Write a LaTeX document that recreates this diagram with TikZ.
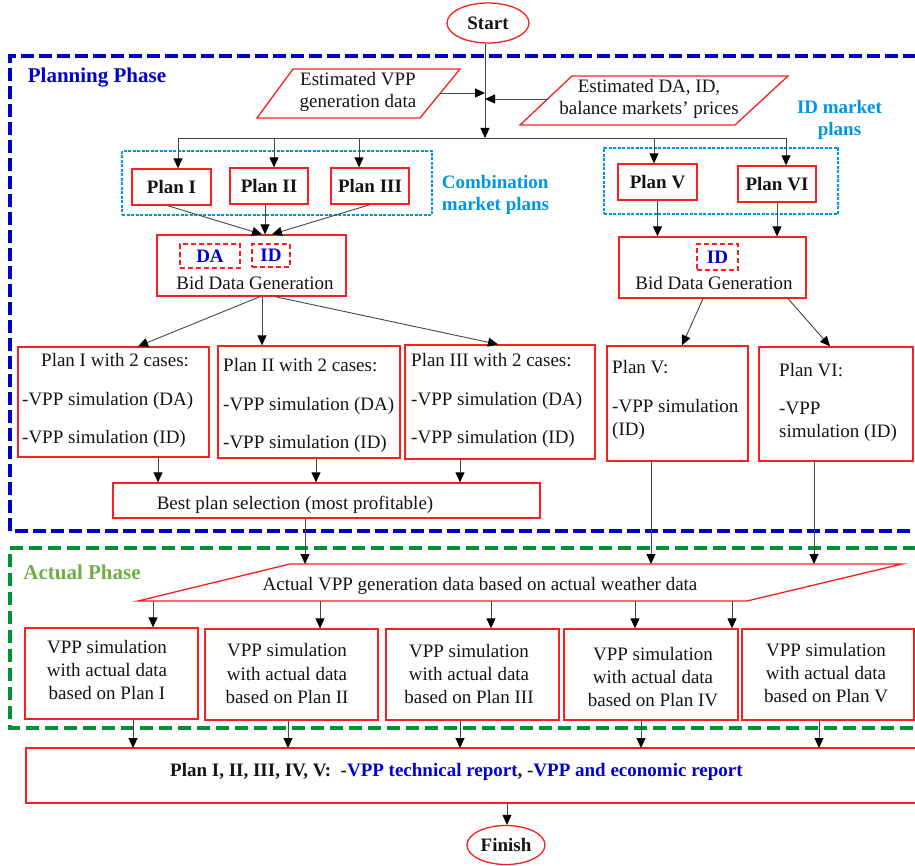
\documentclass[tikz,border=0pt]{standalone}
\usepackage{fontspec}
\setmainfont{Liberation Serif}
\usetikzlibrary{arrows.meta,shapes.geometric,calc}
\definecolor{rd}{RGB}{250,30,30}
\definecolor{ln}{RGB}{70,70,70}
\definecolor{txt}{RGB}{20,20,20}
\definecolor{phblue}{RGB}{0,0,200}
\definecolor{phgreenline}{RGB}{0,145,55}
\definecolor{phgreentext}{RGB}{112,173,71}
\definecolor{cyn}{RGB}{0,150,230}
\definecolor{dblue}{RGB}{0,0,210}
\begin{document}
\begin{tikzpicture}[x=1pt,y=-1pt,
  every node/.style={font=\fontsize{19}{22.5}\selectfont, text=txt},
  rbox/.style={draw=rd, line width=1.3pt, inner sep=0pt},
  redline/.style={draw=rd, line width=1.3pt},
  rdash/.style={draw=rd, line width=1.4pt, dash pattern=on 5pt off 3pt, inner sep=0pt, text=dblue, font=\fontsize{19}{22.5}\selectfont\bfseries},
  cybox/.style={draw=cyn, line width=1.2pt, dash pattern=on 3pt off 1.5pt, inner sep=0pt},
  cylbl/.style={inner sep=0pt, text=cyn, font=\fontsize{19}{22.5}\selectfont\bfseries},
  bluedash/.style={draw=phblue, line width=4pt, dash pattern=on 13pt off 5pt},
  greendash/.style={draw=phgreenline, line width=4pt, dash pattern=on 13pt off 6pt},
  phlbl/.style={inner sep=0pt, font=\fontsize{21}{24}\selectfont\bfseries},
  lbl/.style={inner sep=0pt},
  simtxt/.style={inner sep=0pt, align=center, font=\fontsize{19}{23.3}\selectfont},
  conn/.style={draw=ln, line width=0.9pt},
  arr/.style={conn, -{Triangle[length=10pt,width=9pt,color=black]}}
]
\useasboundingbox (0,0) rectangle (915,866);

% ---------- phases ----------
\draw[bluedash] (916,56) -- (10,56) -- (10,531) -- (916,531);
\draw[greendash] (916,548) -- (10,548) -- (10,728) -- (916,728);
\node[phlbl, text=phblue] (plabel) at (97,78) {Planning Phase};
\node[phlbl, text=phgreentext] (alabel) at (82,572) {Actual Phase};

% ---------- start & inputs ----------
\node[ellipse, draw=rd, line width=1.3pt, minimum width=82pt, minimum height=40pt, inner sep=0pt] (start) at (488,23) {\textbf{Start}};

\draw[redline] (257,118) -- (293,69) -- (460,69) -- (420,118) -- cycle;
\node[lbl, align=center] (est1) at (358,92) {Estimated VPP\\generation data};
\draw[redline] (520,125) -- (572,76) -- (788,76) -- (735,125) -- cycle;
\node[lbl, align=center] (est2) at (649,99) {Estimated DA, ID,\\balance markets’ prices};

\coordinate (jA) at (485,93);
\coordinate (jB) at (485,99);
\coordinate (jC) at (485,138);
\coordinate (e1r) at (440,93);
\coordinate (e2l) at (548,99);
\draw[arr] (start.south -| jC) -- (jC);
\draw[arr] (e1r) -- (jA);
\draw[arr] (e2l) -- (jB);

\coordinate (bL) at (178,138);
\coordinate (b2) at (274,138);
\coordinate (b3) at (359,138);
\coordinate (b5) at (654,138);
\coordinate (bR) at (786,138);
\draw[conn] (bL) -- (bR);

% ---------- plan groups ----------
\node[cybox, minimum width=310pt, minimum height=64pt] (comb) at (277,183) {};
\node[cybox, minimum width=234pt, minimum height=66pt] (idgrp) at (721,181) {};
\node[cylbl, align=left] (comblbl) at (495.5,195) {Combination\\market plans};
\node[cylbl, align=center] (idlbl) at (839.5,120) {ID market\\plans};

\node[rbox, minimum width=79pt, minimum height=36pt] (p1s) at (171.5,187) {\textbf{Plan I}};
\node[rbox, minimum width=78pt, minimum height=36pt] (p2s) at (269,186) {\textbf{Plan II}};
\node[rbox, minimum width=78pt, minimum height=36pt] (p3s) at (370,186) {\textbf{Plan III}};
\node[rbox, minimum width=79pt, minimum height=36pt] (p5s) at (657.5,182) {\textbf{Plan V}};
\node[rbox, minimum width=78pt, minimum height=36pt] (p6s) at (777,184) {\textbf{Plan VI}};

\draw[arr] (bL) -- (bL |- p1s.north);
\draw[arr] (b2) -- (b2 |- p2s.north);
\draw[arr] (b3) -- (b3 |- p3s.north);
\draw[arr] (b5) -- (b5 |- p5s.north);
\draw[arr] (bR) -- (bR |- p6s.north);

% ---------- bid data generation ----------
\node[rbox, minimum width=189pt, minimum height=61pt] (bdgL) at (251.5,265.5) {};
\node[rdash, minimum width=60pt, minimum height=24pt] (daL) at (210,256) {DA};
\node[rdash, minimum width=38pt, minimum height=23pt] (idL) at (271,255.5) {ID};
\node[lbl] (bdgLt) at (255,283) {Bid Data Generation};

\node[rbox, minimum width=187pt, minimum height=61pt] (bdgR) at (712.5,267.5) {};
\node[rdash, minimum width=41pt, minimum height=26pt] (idR) at (717.5,257) {ID};
\node[lbl] (bdgRt) at (714,283) {Bid Data Generation};

\draw[arr] ([xshift=-4pt]p1s.south) -- ([xshift=10.5pt]bdgL.north);
\draw[arr] ([xshift=-4pt]p2s.south) -- ([xshift=-4pt]p2s.south |- bdgL.north);
\draw[arr] (p3s.south) -- ([xshift=20.5pt]bdgL.north);
\draw[arr] (p5s.south) -- (p5s.south |- bdgR.north);
\draw[arr] (p6s.south) -- (p6s.south |- bdgR.north);

% ---------- plan case boxes ----------
\node[rbox, minimum width=191pt, minimum height=110pt] (p1c) at (113.5,402) {};
\node[rbox, minimum width=182pt, minimum height=112pt] (p2c) at (309,402) {};
\node[rbox, minimum width=190pt, minimum height=114pt] (p3c) at (500,402) {};
\node[rbox, minimum width=141pt, minimum height=115pt] (p5c) at (677.5,403.5) {};
\node[rbox, minimum width=154pt, minimum height=114pt] (p6c) at (836,404) {};

\node[lbl, anchor=base west] (p1c1) at (41,366) {Plan I with 2 cases:};
\node[lbl, anchor=base west] (p1c2) at (22,405) {-VPP simulation (DA)};
\node[lbl, anchor=base west] (p1c3) at (22,443) {-VPP simulation (ID)};
\node[lbl, anchor=base west] (p2c1) at (223,371) {Plan II with 2 cases:};
\node[lbl, anchor=base west] (p2c2) at (223,410) {-VPP simulation (DA)};
\node[lbl, anchor=base west] (p2c3) at (223,448) {-VPP simulation (ID)};
\node[lbl, anchor=base west] (p3c1) at (411,366) {Plan III with 2 cases:};
\node[lbl, anchor=base west] (p3c2) at (411,405) {-VPP simulation (DA)};
\node[lbl, anchor=base west] (p3c3) at (411,443) {-VPP simulation (ID)};
\node[lbl, anchor=base west] (p5c1) at (612,373) {Plan V:};
\node[lbl, anchor=base west] (p5c2) at (612,412) {-VPP simulation};
\node[lbl, anchor=base west] (p5c3) at (612,435) {(ID)};
\node[lbl, anchor=base west] (p6c1) at (779,376) {Plan VI:};
\node[lbl, anchor=base west] (p6c2) at (779,414) {-VPP};
\node[lbl, anchor=base west] (p6c3) at (779,437) {simulation (ID)};

\draw[arr] ([xshift=8.5pt]bdgL.south) -- ([xshift=24.5pt]p1c.north);
\draw[arr] ([xshift=10.5pt]bdgL.south) -- ([xshift=10.5pt]bdgL.south |- p2c.north);
\draw[arr] ([xshift=23.5pt]bdgL.south) -- ([xshift=-2pt]p3c.north);
\draw[arr] ([xshift=-9.5pt]bdgR.south) -- ([xshift=4.5pt]p5c.north);
\draw[arr] ([xshift=75.5pt]bdgR.south) -- ([xshift=-6pt]p6c.north);

% ---------- best plan ----------
\node[rbox, minimum width=427pt, minimum height=35pt] (best) at (326.5,500.5) {};
\node[lbl, anchor=base] (bestt) at (295,509) {Best plan selection (most profitable)};

\draw[arr] ([xshift=44.5pt]p1c.south) -- ([xshift=44.5pt]p1c.south |- best.north);
\draw[arr] ([xshift=7pt]p2c.south) -- ([xshift=7pt]p2c.south |- best.north);
\draw[arr] ([xshift=-40pt]p3c.south) -- ([xshift=-40pt]p3c.south |- best.north);

% ---------- actual data ----------
\draw[redline] (138,601) -- (290,564) -- (902,564) -- (747,601) -- cycle;
\node[lbl, anchor=base] (actt) at (480,590) {Actual VPP generation data based on actual weather data};
\coordinate (actT) at (480,564);
\coordinate (actB) at (480,601);

\draw[arr] ([xshift=-21.5pt]best.south) -- ([xshift=-21.5pt]best.south |- actT);
\draw[arr] ([xshift=-26.5pt]p5c.south) -- ([xshift=-26.5pt]p5c.south |- actT);
\draw[arr] ([xshift=-22pt]p6c.south) -- ([xshift=-22pt]p6c.south |- actT);

% ---------- simulations ----------
\node[rbox, minimum width=173pt, minimum height=91pt] (s1) at (111.5,673.5) {};
\node[rbox, minimum width=173pt, minimum height=91pt] (s2) at (291.5,674.5) {};
\node[rbox, minimum width=173pt, minimum height=91pt] (s3) at (472.5,674.5) {};
\node[rbox, minimum width=174pt, minimum height=91pt] (s4) at (651,674.5) {};
\node[rbox, minimum width=172pt, minimum height=91pt] (s5) at (828,674.5) {};

\node[simtxt] (s1t) at (107,670) {VPP simulation\\with actual data\\based on Plan I};
\node[simtxt] (s2t) at (287,673.5) {VPP simulation\\with actual data\\based on Plan II};
\node[simtxt] (s3t) at (469,674) {VPP simulation\\with actual data\\based on Plan III};
\node[simtxt] (s4t) at (653,677) {VPP simulation\\with actual data\\based on Plan IV};
\node[simtxt] (s5t) at (826,673) {VPP simulation\\with actual data\\based on Plan V};

\draw[arr] ([xshift=41.5pt]s1.north |- actB) -- ([xshift=41.5pt]s1.north);
\draw[arr] ([xshift=28.5pt]s2.north |- actB) -- ([xshift=28.5pt]s2.north);
\draw[arr] ([xshift=18.5pt]s3.north |- actB) -- ([xshift=18.5pt]s3.north);
\draw[arr] ([xshift=-16pt]s4.north |- actB) -- ([xshift=-16pt]s4.north);
\draw[arr] ([xshift=81pt]s4.north |- actB) -- ([xshift=81pt]s4.north);

% ---------- final report ----------
\draw[redline] (916,748) -- (26,748) -- (26,803) -- (916,803);
\coordinate (finT) at (470,748);
\coordinate (finB) at (507,803);
\node[lbl, anchor=base west] (fint) at (170,776) {\textbf{Plan I, II, III, IV, V:\ \ -\textcolor{dblue}{VPP technical report}, -\textcolor{dblue}{VPP and economic report}}};

\draw[arr] ([xshift=21.5pt]s1.south) -- ([xshift=21.5pt]s1.south |- finT);
\draw[arr] ([xshift=-3.5pt]s2.south) -- ([xshift=-3.5pt]s2.south |- finT);
\draw[arr] ([xshift=-12.5pt]s3.south) -- ([xshift=-12.5pt]s3.south |- finT);
\draw[arr] ([xshift=-10pt]s4.south) -- ([xshift=-10pt]s4.south |- finT);
\draw[arr] ([xshift=-9pt]s5.south) -- ([xshift=-9pt]s5.south |- finT);

\node[ellipse, draw=rd, line width=1.3pt, minimum width=78pt, minimum height=39pt, inner sep=0pt] (finish) at (506,845) {\textbf{Finish}};
\draw[arr] (finB) -- (finB |- finish.north);
\end{tikzpicture}
\end{document}
